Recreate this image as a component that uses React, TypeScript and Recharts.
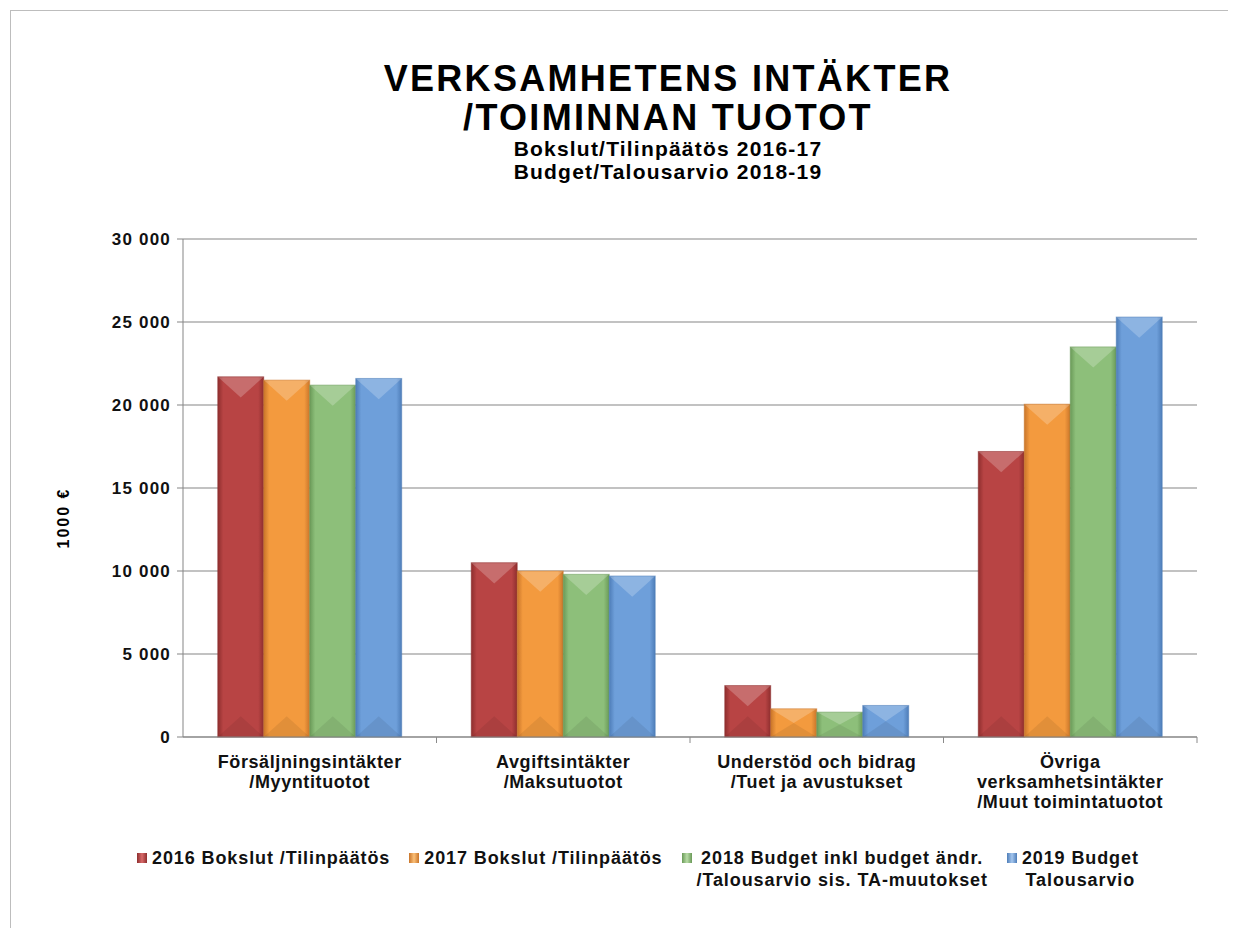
import { BarChart, Bar, XAxis, YAxis, CartesianGrid } from "recharts";

const categories = [
  "Försäljningsintäkter\n/Myyntituotot",
  "Avgiftsintäkter\n/Maksutuotot",
  "Understöd och bidrag\n/Tuet ja avustukset",
  "Övriga\nverksamhetsintäkter\n/Muut toimintatuotot",
];
const bokslut2016 = [21700, 10500, 3100, 17200];
const bokslut2017 = [21500, 10000, 1700, 20050];
const budget2018 = [21200, 9800, 1500, 23500];
const budget2019 = [21600, 9700, 1900, 25300];
const seriesNames = [
  "2016 Bokslut /Tilinpäätös",
  "2017 Bokslut /Tilinpäätös",
  "2018 Budget inkl budget ändr.\n/Talousarvio sis. TA-muutokset",
  "2019 Budget\nTalousarvio",
];
const yTicks = [0, 5000, 10000, 15000, 20000, 25000, 30000];

const colors = [
  { base: "#B84444", light: "#D86A6A", dark: "#8E2E2E" },
  { base: "#F39A3E", light: "#FBC078", dark: "#C9752A" },
  { base: "#8DBF7A", light: "#B8DCA6", dark: "#6A9A58" },
  { base: "#6E9FDA", light: "#A4C6EE", dark: "#4E7DB8" },
];

const seriesData = [bokslut2016, bokslut2017, budget2018, budget2019];
const data = categories.map((c, i) => ({
  name: c,
  s0: bokslut2016[i],
  s1: bokslut2017[i],
  s2: budget2018[i],
  s3: budget2019[i],
}));

const FONT = '"Liberation Sans", Arial, sans-serif';

const fmt = (v: number) => String(v).replace(/\B(?=(\d{3})+(?!\d))/g, " ");

function BevelBar(props: any) {
  const { x, y, width, height, idx } = props;
  if (!height || height <= 0) return null;
  const d = Math.min(width * 0.45, height / 2);
  return (
    <g>
      <rect x={x} y={y} width={width} height={height} fill={`url(#grad${idx})`} />
      <polygon
        points={`${x},${y} ${x + width},${y} ${x + width / 2},${y + d}`}
        fill="#ffffff"
        fillOpacity={0.22}
      />
      <polygon
        points={`${x},${y + height} ${x + width},${y + height} ${x + width / 2},${y + height - d}`}
        fill="#000000"
        fillOpacity={0.07}
      />
      <rect x={x} y={y} width={width} height={height} fill="none" stroke={colors[idx].dark} strokeOpacity={0.5} />
    </g>
  );
}

function CategoryTick(props: any) {
  const { x, y, payload, width } = props;
  const lines = String(payload.value).split("\n");
  const step = (width || 1014) / categories.length;
  return (
    <g>
      <line x1={x + step / 2} x2={x + step / 2} y1={y - 8} y2={y - 2} stroke="#8a8a8a" />
      <text
        x={x}
        y={y + 23}
        textAnchor="middle"
        fontFamily={FONT}
        fontWeight="bold"
        fontSize={18}
        letterSpacing={0.6}
        fill="#111"
      >
        {lines.map((l, i) => (
          <tspan key={i} x={x} dy={i === 0 ? 0 : 20}>
            {l}
          </tspan>
        ))}
      </text>
    </g>
  );
}

export default function App() {
  return (
    <div style={{ position: "relative", margin: -8, width: 1236, height: 936, background: "#fff", overflow: "hidden", fontFamily: FONT }}>
      <div style={{ position: "absolute", left: 10, top: 10, width: 1300, height: 1000, border: "1px solid #bdbdbd" }} />
      <div style={{ position: "absolute", left: 0, top: 59, width: 1336, textAlign: "center", fontWeight: "bold", color: "#000" }}>
        <div style={{ fontSize: 36, lineHeight: "39px", letterSpacing: 2.3 }}>VERKSAMHETENS INTÄKTER</div>
        <div style={{ fontSize: 36, lineHeight: "39px", letterSpacing: 2.3 }}>/TOIMINNAN TUOTOT</div>
        <div style={{ fontSize: 21, lineHeight: "23px", letterSpacing: 1.2 }}>Bokslut/Tilinpäätös 2016-17</div>
        <div style={{ fontSize: 21, lineHeight: "23px", letterSpacing: 1.2 }}>Budget/Talousarvio 2018-19</div>
      </div>
      <div
        style={{
          position: "absolute",
          left: 64,
          top: 518,
          transform: "translate(-50%, -50%) rotate(-90deg)",
          fontWeight: "bold",
          fontSize: 16,
          letterSpacing: 2,
          whiteSpace: "nowrap",
        }}
      >
        1000 €
      </div>
      <div style={{ position: "absolute", left: 0, top: 0 }}>
        <BarChart
          width={1236}
          height={936}
          data={data}
          margin={{ top: 239, right: 39, bottom: 0, left: 0 }}
          barCategoryGap="13.7%"
          barGap={0}
        >
          <defs>
            {colors.map((c, i) => (
              <linearGradient key={i} id={`grad${i}`} x1="0" y1="0" x2="1" y2="0">
                <stop offset="0%" stopColor={c.dark} />
                <stop offset="12%" stopColor={c.base} />
                <stop offset="50%" stopColor={c.base} />
                <stop offset="88%" stopColor={c.base} />
                <stop offset="100%" stopColor={c.dark} />
              </linearGradient>
            ))}
          </defs>
          <CartesianGrid vertical={false} stroke="#858585" />
          <XAxis
            dataKey="name"
            height={199}
            interval={0}
            tickLine={false}
            axisLine={{ stroke: "#858585" }}
            tick={<CategoryTick />}
          />
          <YAxis
            width={183}
            domain={[0, 30000]}
            ticks={yTicks}
            tickFormatter={fmt}
            axisLine={{ stroke: "#858585" }}
            tickLine={{ stroke: "#858585" }}
            tickSize={6}
            tickMargin={6}
            tick={{ fontFamily: FONT, fontWeight: "bold", fontSize: 17, letterSpacing: 1.2, fill: "#111" }}
          />
          {seriesData.map((_, i) => (
            <Bar
              key={i}
              dataKey={`s${i}`}
              name={seriesNames[i]}
              fill={colors[i].base}
              isAnimationActive={false}
              shape={(p: any) => <BevelBar {...p} idx={i} />}
            />
          ))}
        </BarChart>
      </div>
      <div
        style={{
          position: "absolute",
          left: 137,
          top: 847,
          display: "flex",
          gap: 19,
          alignItems: "flex-start",
          fontWeight: "bold",
          fontSize: 18,
          letterSpacing: 0.9,
          color: "#111",
        }}
      >
        {seriesNames.map((n, i) => (
          <div key={i} style={{ display: "flex", alignItems: "flex-start" }}>
            <div
              style={{
                width: 10,
                height: 10,
                marginTop: 6,
                marginRight: 5,
                background: `linear-gradient(90deg, ${colors[i].dark}, ${colors[i].light}, ${colors[i].dark})`,
              }}
            />
            <div style={{ textAlign: "center", lineHeight: "22px" }}>
              {n.split("\n").map((l, j) => (
                <div key={j}>{l}</div>
              ))}
            </div>
          </div>
        ))}
      </div>
    </div>
  );
}
